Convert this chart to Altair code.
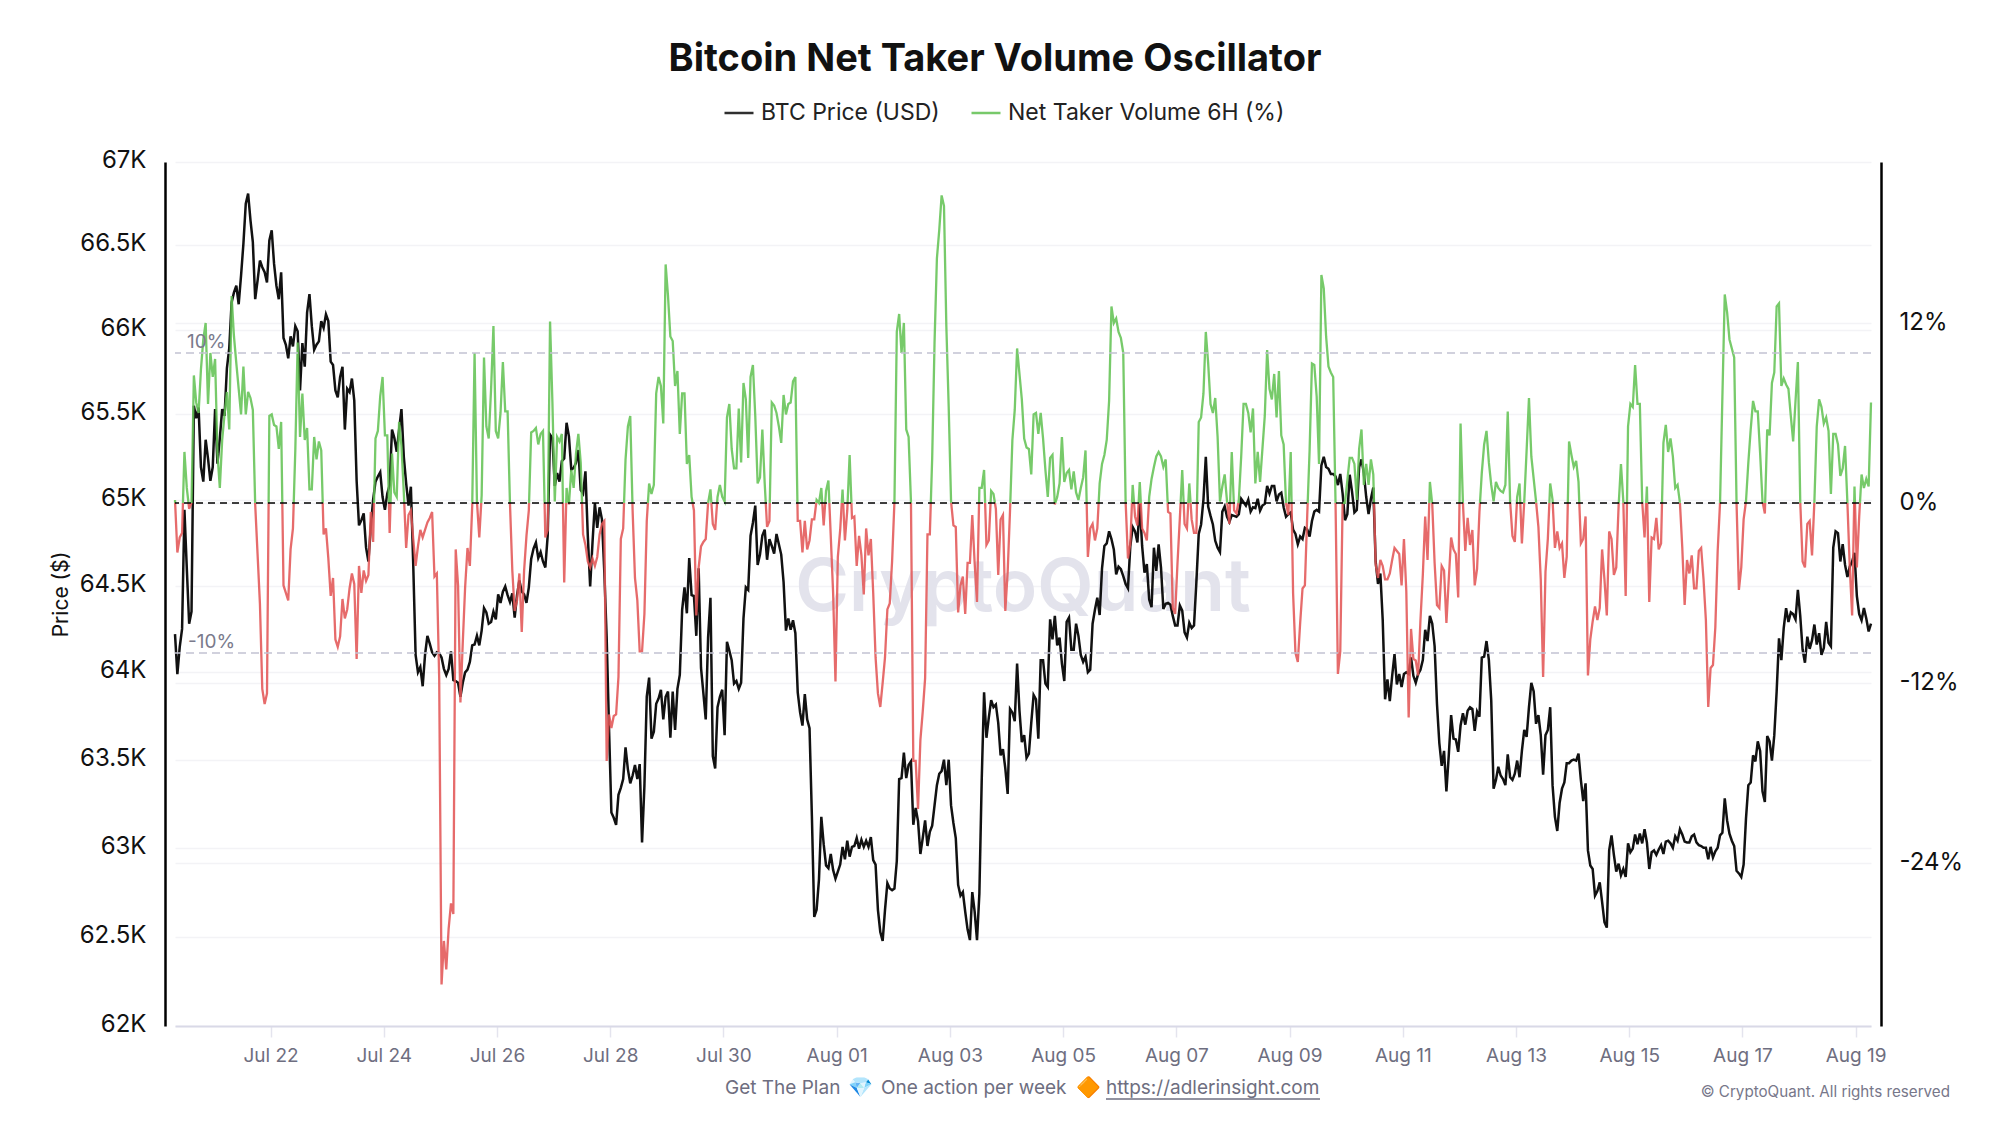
import altair as alt
import pandas as pd

TITLE = "Bitcoin Net Taker Volume Oscillator"
S_PRICE = "BTC Price (USD)"
S_OSC = "Net Taker Volume 6H (%)"
S_NEG = "Negative"
TICK_DAYS = ["2024-07-22", "2024-07-24", "2024-07-26", "2024-07-28", "2024-07-30",
             "2024-08-01", "2024-08-03", "2024-08-05", "2024-08-07", "2024-08-09",
             "2024-08-11", "2024-08-13", "2024-08-15", "2024-08-17", "2024-08-19"]
PRICE_TICKS = [62000, 62500, 63000, 63500, 64000, 64500, 65000, 65500, 66000, 66500, 67000]
OSC_TICKS = [12, 0, -12, -24]
LEVELS = [10, -10]

# hourly values, ten per row
price = [
64220,63990,64145,64250,64940,64600,64280,64350,65550,65476,
65540,65190,65105,65350,65240,65110,65190,65530,65210,65360,
65530,65490,65770,65890,66160,66220,66260,66150,66320,66510,
66750,66810,66650,66520,66180,66290,66410,66370,66340,66280,
66530,66590,66390,66260,66180,66340,65950,65910,65830,65960,
65900,66020,65990,65640,65920,65780,66100,66210,66020,65880,
65910,65930,66050,66010,66090,66050,65810,65790,65640,65600,
65720,65780,65410,65650,65630,65710,65580,65110,64850,64880,
64920,64720,64640,64840,65000,65105,65135,65160,65015,64940,
65035,65085,65410,65360,65280,65410,65530,65250,65095,64965,
65075,64620,64100,64000,64030,63920,64100,64210,64165,64115,
64095,64115,64110,64085,64020,63985,64020,64120,63955,63950,
63940,63860,63940,64000,64015,64060,64155,64160,64210,64155,
64240,64370,64345,64280,64290,64350,64305,64450,64400,64465,
64495,64445,64405,64455,64315,64445,64530,64465,64450,64400,
64490,64655,64715,64750,64660,64695,64640,64605,64790,65380,
65360,65080,65155,65105,65225,65240,65450,65370,65175,65185,
65215,65290,65055,65035,65165,64790,64495,64750,64980,64835,
64955,64885,64580,64200,63680,63200,63170,63130,63300,63340,
63390,63570,63445,63365,63410,63470,63390,63475,63030,63350,
63860,63970,63620,63660,63820,63850,63900,63730,63860,63890,
63625,63890,63670,63905,63985,64360,64490,64340,64660,64445,
64440,64210,64600,64025,63880,63730,64200,64430,63520,63450,
63800,63860,63900,63640,64175,64125,64070,63935,63950,63905,
63940,64310,64490,64475,64790,64865,64965,64620,64680,64790,
64825,64650,64770,64730,64685,64800,64740,64680,64520,64240,
64310,64245,64300,64225,63885,63770,63695,63875,63730,63680,
63180,62610,62650,62820,63175,63020,62900,62885,62965,62875,
62825,62865,62905,63005,62935,63040,62950,63005,63010,63055,
62995,63045,63005,63040,63005,63060,62930,62905,62650,62525,
62475,62650,62800,62770,62760,62770,62925,63390,63395,63540,
63395,63470,63490,63130,63225,63150,62965,63055,63155,63010,
63090,63125,63240,63355,63420,63435,63500,63355,63500,63240,
63140,63055,62790,62730,62750,62640,62540,62480,62750,62640,
62480,62740,63385,63885,63625,63740,63840,63800,63815,63710,
63525,63560,63450,63305,63790,63770,63720,64050,63780,63600,
63640,63510,63535,63710,63870,63845,63620,64070,64070,63935,
63915,64305,64190,64325,64155,64200,64050,63950,64290,64315,
64130,64130,64280,64210,64100,64060,64090,64000,64015,64280,
64360,64430,64330,64600,64730,64745,64815,64770,64710,64565,
64610,64595,64555,64510,64485,64730,64840,64815,64750,64975,
64730,64575,64625,64420,64375,64720,64585,64740,64605,64365,
64395,64400,64390,64325,64270,64270,64385,64355,64230,64200,
64285,64255,64270,64520,64800,64855,65000,65250,64960,64905,
64855,64760,64720,64695,64930,64960,64900,64870,64910,64905,
64900,64915,65005,64985,64965,65000,64930,64955,64950,65005,
64935,64965,64975,65080,65035,65080,65080,64990,65030,65040,
64955,64900,64915,64925,64825,64800,64740,64785,64770,64835,
64825,64785,64875,64930,64940,64930,65200,65250,65190,65180,
65150,65150,65135,65085,65150,65035,64880,64915,65145,65045,
64925,64940,65190,65235,65155,65015,64915,65005,65070,64640,
64510,64570,64300,63845,63960,63835,63980,64105,63930,63990,
63915,63990,64000,63990,64085,63980,63940,63990,64015,64070,
64245,64180,64325,64280,64150,63820,63595,63465,63550,63320,
63525,63755,63620,63615,63545,63695,63765,63700,63780,63800,
63790,63665,63775,63745,64085,64090,64180,64070,63840,63335,
63385,63460,63410,63390,63355,63530,63400,63385,63420,63495,
63400,63550,63670,63630,63800,63940,63890,63705,63755,63640,
63415,63640,63670,63800,63355,63175,63095,63255,63335,63370,
63480,63480,63495,63500,63495,63535,63385,63265,63365,62985,
62900,62880,62730,62755,62805,62695,62580,62550,62985,63070,
62960,62865,62910,62845,62880,62835,63025,62975,62995,63075,
63020,63080,63025,63105,63030,62880,62975,62985,62960,62990,
63015,62965,63035,63040,63025,63000,63065,63040,63105,63075,
63035,63030,63030,63065,63075,63030,63015,63010,63000,63000,
62935,63005,62945,62980,63000,63070,63085,63280,63155,63080,
63040,63010,62870,62855,62835,62905,63165,63355,63370,63525,
63490,63605,63550,63320,63260,63635,63605,63495,63640,63890,
64195,64070,64255,64370,64290,64345,64335,64305,64475,64325,
64130,64055,64205,64135,64185,64275,64160,64225,64100,64140,
64290,64170,64150,64720,64815,64805,64640,64740,64620,64550,
64610,64640,64690,64440,64335,64300,64370,64310,64235,64280,
]

osc = [
0.2,-3.3,-2.3,-2,3.4,1,-0.4,0,8.5,6.7,
6,8.9,10.9,12,6.6,10,8.4,9.6,3.3,1,
4.2,5.9,7.4,4.9,13.8,11.1,9.3,7.6,5.9,9.1,
5.9,7.4,7,6.2,-0.1,-3.4,-6.7,-12.4,-13.4,-12.7,
5.8,5.9,5.2,5.1,3.6,5.4,-5.5,-6,-6.5,-3.1,
-1.7,3.5,10.7,4.4,7.3,4.2,5,0.9,0.9,4.4,
2.9,4.1,3.5,-2.1,-1.7,-3.7,-6.2,-5,-9.1,-9.6,
-8.9,-6.4,-7.7,-7.1,-5.7,-4.7,-5.4,-10.4,-4.2,-6,
-4.5,-5.2,-4.8,-0.6,-2.6,4.3,4.8,7.1,8.4,4.5,
4.5,-2,3.3,0.7,0.4,5.4,3.8,0.7,-3,-0.8,
-0.5,-2.4,-4.2,-2.9,-1.8,-2.3,-1.8,-1.3,-1,-0.6,
-4.9,-4.7,-11.7,-32.1,-29.2,-31.1,-28.4,-26.7,-27.4,-3.1,
-5.5,-13.3,-9.3,-5.6,-3,-4.2,-0.2,10,0.1,-2.3,
0.5,9.7,5.1,4.3,7.6,11.8,4.8,4.3,6,9.4,
6.1,6.1,0,-4.5,-7.2,-6.5,-4.7,-8.6,-4.5,-2.2,
-0.5,4.7,4.8,5,3.9,4.6,4.8,-2.3,-1.8,12.1,
6.7,0.1,4.4,4.1,4.6,-5.3,1,-0.1,2.2,1,
3.3,4.6,2.7,-2.1,-2.8,-3.9,-4.3,-3.7,-4.2,-3.6,
-2.1,-1.4,-1.2,-17.2,-14.1,-15,-14.2,-14.1,-11.6,-2.4,
-1.7,2.9,5.1,5.8,-0.5,-5,-6.5,-9.9,-9.9,-7.4,
-1.2,1.3,0.6,1.2,7.3,8.4,7.8,5.3,15.9,13.8,
11.1,10.8,7.8,8.8,4.6,7.3,7.3,2.6,3.2,0.4,
-0.5,-7.5,-4.3,-2.9,-2.6,-2.4,0,0.9,-1.4,-1.8,
0.4,1.2,0.4,0.1,5.7,6.6,3.6,2.3,2.3,6.3,
2.7,8,6.9,3,8.4,9.2,5.8,1.3,1.7,4.9,
1.3,-1.6,-1.2,6.7,6.5,6,5.1,4,7.2,5.9,
6.6,6.7,8.1,8.4,-1.2,-1.2,-3.3,-1.2,-3.1,-2.5,
-1.1,-1.1,0.2,0,1,-1.5,0.8,1.5,-2.2,-6,
-11.9,-3.6,-1.8,0.9,-2.5,-0.5,3.2,-1,-0.9,-4.2,
-2.2,-3.5,-6.1,-1.7,-3.5,-2.4,-6,-10.3,-12.7,-13.6,
-12,-10.3,-7.1,-6.7,-3.9,0.1,11.4,12.6,10,12,
4.9,4.4,0.1,-17.2,-17.2,-20.4,-15.8,-13.9,-11.7,-2.1,
-2.1,3,10.7,16.3,18.2,20.5,19.8,11.8,6.4,0.1,
-1.5,-1.6,-7.3,-5.5,-4.9,-7.4,-4,-4,-0.8,-4,
-6.6,1,1,2.2,-2.8,-2.5,0.8,0.6,-0.4,-4.8,
-1.1,-0.8,-7.2,-4.6,-0.5,4.2,6.2,10.3,8.6,6.9,
4.3,3.7,3.6,1.9,5.9,6,4.6,6,4.3,2.2,
0.4,3,3.2,-0.1,0.4,1.3,4.4,1.4,2,2.2,
0.9,2.1,0.7,0.2,1,1.7,3.5,-3.6,-1.7,-1.4,
-2.5,-1.7,1.3,2.6,3.2,4.2,6.8,13.1,12,12.3,
11.4,11,10,0.1,-3.7,-2.7,1.2,-0.9,-1.5,1.4,
-1.7,-2,-2.5,0.4,1.6,2.4,3.1,3.4,3.1,2.4,
2.9,-0.6,-0.7,-7,-7.4,-4,-1,2.2,-1.4,-1.7,
1.3,-1.1,-2,-2,5.4,5.7,7.3,11.4,9.3,6.6,
6,7,4.4,0.1,1.1,1.9,0.1,-1.4,3.4,-0.5,
-0.7,0.2,3.1,6.6,6.6,6,4.7,6.3,1.3,3.4,
1.4,3.6,5.8,10.2,7.6,6.9,8.6,5.7,8.8,4.5,
3.9,0,-0.8,3.4,-6,-10,-10.6,-8,-5.7,-5.5,
-0.8,3.5,9.3,9.2,7.1,2.6,15.2,14.3,11.1,9.1,
8.7,8.4,0,-11.4,-9.9,0,0,1.5,3,3,
2.6,0.2,3.6,4.9,1.2,2.6,1.2,2.9,1.9,-4.1,
-5,-3.8,-4.2,-5.1,-5.1,-4.7,-3.8,-3,-3.2,-3.4,
-5.5,-2.4,-5.9,-14.3,-8.4,-10.4,-10.5,-11.5,-7.8,-4.8,
-0.9,-3.8,1.4,-0.1,-4,-6.8,-7,-4.2,-4.5,-8,
-5.1,-2.3,-3.1,-3.4,-6.3,5.3,0,-3.2,-1,-2.8,
-1.8,-5.5,-4.4,-0.6,2,3.9,4.8,2.7,1.2,0.1,
1.4,1,0.8,0.7,1.2,6.1,0.1,-2.2,-2.6,0.4,
1.3,-2.7,0.1,3.5,7,3.1,1.6,0.1,-1.6,-5.1,
-11.6,-4.6,-2.4,1.3,0.2,-3,-1.9,-3,-2.7,-5,
-3.6,4.1,3.2,2.4,2.8,1.4,-2.7,-2.4,-0.9,-11.5,
-9.1,-7.9,-6.9,-7.8,-7,-3.1,-5.1,-7.5,-1.9,-2.4,
-4.8,-4.3,-0.2,2.6,0.1,-6.2,5.1,6.6,6.4,9.2,
6.6,6.6,0.1,-2.3,1.1,-6.6,-2.3,-2.4,-1,-3.1,
-2.7,4,5.2,3.4,4.3,3.1,1,1.2,0,-3,
-6.8,-3.8,-4.7,-3.5,-5.7,-5.7,-3.2,-3,-5.1,-7.8,
-13.6,-11,-10.8,-8.3,-3.2,0,7.1,13.9,12.7,10.9,
10.3,9.7,0,-5.8,-4.3,-1.1,0.1,2.7,4.9,6.8,
6.1,6.1,3.3,0.1,-0.7,4.9,4.5,8,8.7,13.1,
13.3,7.8,8.3,7.9,7.6,5.8,4.1,6.8,9.4,0.1,
-3.9,-4.3,-1.4,-1.2,-3.5,0.1,5.1,6.9,6.4,5.3,
5.7,4.8,0.6,4.6,4.6,3.9,1.8,2.3,3.8,0,
-4.3,-7.5,1.1,-4.3,-0.9,1.9,1,1.6,1.1,6.7,
]

START = pd.Timestamp("2024-07-20T07:30:00Z")


def stamp(hour):
    return (START + pd.Timedelta(hours=hour)).strftime("%Y-%m-%dT%H:%M:%SZ")


price_df = pd.DataFrame({"t": [stamp(i) for i in range(len(price))],
                         "v": price, "series": S_PRICE})

# Split the oscillator at each zero crossing, so it changes colour on the zero line.
rows = []
seg = 0
for i, v in enumerate(osc):
    if i:
        p = osc[i - 1]
        if (p >= 0) != (v >= 0):
            cross = i - 1 + p / (p - v)
            rows.append((stamp(cross), 0.0, seg, S_OSC if p >= 0 else S_NEG))
            seg += 1
            rows.append((stamp(cross), 0.0, seg, S_OSC if v >= 0 else S_NEG))
    rows.append((stamp(i), v, seg, S_OSC if v >= 0 else S_NEG))
osc_df = pd.DataFrame(rows, columns=["t", "v", "seg", "series"])

x_scale = alt.Scale(type="utc", domain=[stamp(0), stamp(719)])
x_axis = alt.Axis(values=[d + "T00:00:00Z" for d in TICK_DAYS],
                  labelExpr="utcFormat(datum.value, '%b %d')", title=None, grid=False,
                  domainColor="#d9d9e7", domainWidth=2, tickColor="#e4e4ee", tickWidth=1.5,
                  tickSize=11, labelColor="#6e6e80", labelFontSize=19, labelPadding=9,
                  labelFlush=False, labelOverlap=False, labelFont="Inter")
color = alt.Color("series:N",
                  scale=alt.Scale(domain=[S_PRICE, S_OSC, S_NEG],
                                  range=["#111111", "#63c254", "#e25555"]),
                  legend=alt.Legend(values=[S_PRICE, S_OSC], title=None, orient="none",
                                    legendX=548, legendY=-65, direction="horizontal",
                                    gridAlign="none", symbolType="stroke", symbolSize=841,
                                    symbolStrokeWidth=2.5, labelFontSize=23, labelFont="Inter",
                                    labelColor="#222222", columnPadding=26, labelOffset=6,
                                    labelLimit=500))

x_enc = alt.X("t:T", scale=x_scale, axis=x_axis)

price_layer = alt.Chart(price_df).mark_line(strokeWidth=2.5).encode(
    x=x_enc,
    y=alt.Y("v:Q",
            scale=alt.Scale(type="log", domain=[62000, 67000], nice=False, zero=False),
            axis=alt.Axis(values=PRICE_TICKS, labelExpr="(datum.value / 1000) + 'K'",
                          title="Price ($)", titleFont="Inter", titleFontSize=21,
                          titleFontWeight="normal", titleColor="#111111", titleX=-94,
                          labelFont="Inter", labelFontSize=24, labelColor="#111111",
                          labelPadding=19, labelOffset=-1.5, offset=10, ticks=False,
                          domainColor="#000000", domainWidth=2.5, grid=True,
                          gridColor="#f3f3f6", gridWidth=1.5)),
    color=color,
)

osc_y = alt.Y("v:Q", scale=alt.Scale(domain=[-34.87, 22.73], nice=False, zero=False),
              axis=alt.Axis(values=OSC_TICKS, labelExpr="datum.value + '%'", title=None,
                            orient="right", labelFont="Inter", labelFontSize=24,
                            labelColor="#111111", labelPadding=18, offset=10, ticks=False,
                            domainColor="#000000", domainWidth=2.5, grid=True,
                            gridColor="#f3f3f6", gridWidth=1.5))
osc_layer = alt.Chart(osc_df).mark_line(strokeWidth=2.3, opacity=0.87).encode(
    x=x_enc,
    y=osc_y,
    color=color,
    detail="seg:N",
)

level_rules = alt.Chart(pd.DataFrame({"v": LEVELS})).mark_rule(
    color="#c2c2d2", strokeWidth=1.5, strokeDash=[8, 5]).encode(y=osc_y)
zero_rule = alt.Chart(pd.DataFrame({"v": [0]})).mark_rule(
    color="#000000", strokeWidth=1.5, strokeDash=[7, 5]).encode(y=osc_y)


def label(text, x, y, size, col="#6e6e80", align="left", weight="normal"):
    return alt.Chart(pd.DataFrame({"s": [text]})).mark_text(
        font="Inter", fontSize=size, color=col, align=align, baseline="alphabetic",
        fontWeight=weight).encode(text="s:N", x=alt.value(x), y=alt.value(y))


watermark = label("CryptoQuant", 848, 449, 73, "#e3e3ec", "center", 600)
lvl_hi = label("10%", 12, 186, 19, "#7a7a8c")
lvl_lo = label("-10%", 13, 486, 19, "#7a7a8c")
footer_a = label("Get The Plan", 550, 932, 19)
gem = label("\U0001F48E", 673, 932, 20, "#4aa8ee")
footer_b = label("One action per week", 706, 932, 19)
diamond = label("\U0001F536", 901, 932, 20, "#f5941d")
footer_c = label("https://adlerinsight.com", 931, 932, 19)
underline = alt.Chart(pd.DataFrame({"s": ["https://adlerinsight.com"]})).mark_rule(
    color="#6e6e80", strokeWidth=1.3).encode(
    x=alt.value(931), x2=alt.value(1145), y=alt.value(937))
copyright_ = label("\u00a9 CryptoQuant. All rights reserved", 1775, 935, 15.2, "#77778a", "right")

back = alt.layer(watermark, price_layer)
front = alt.layer(osc_layer, level_rules, zero_rule, lvl_hi, lvl_lo, footer_a, gem, footer_b,
                  diamond, footer_c, underline, copyright_)

chart = alt.layer(back, front).resolve_scale(y="independent").properties(
    width=1696, height=864,
    title=alt.TitleParams(TITLE, font="Inter", fontSize=38, fontWeight=700, color="#111111",
                          anchor="middle", dx=-28, offset=18),
    autosize=alt.AutoSizeParams(type="none"),
    padding={"left": 167, "top": 154, "right": 121, "bottom": 91},
    background="white",
).configure_view(stroke=None)

chart.save("out.html", embed_options={"renderer": "svg", "actions": False})
